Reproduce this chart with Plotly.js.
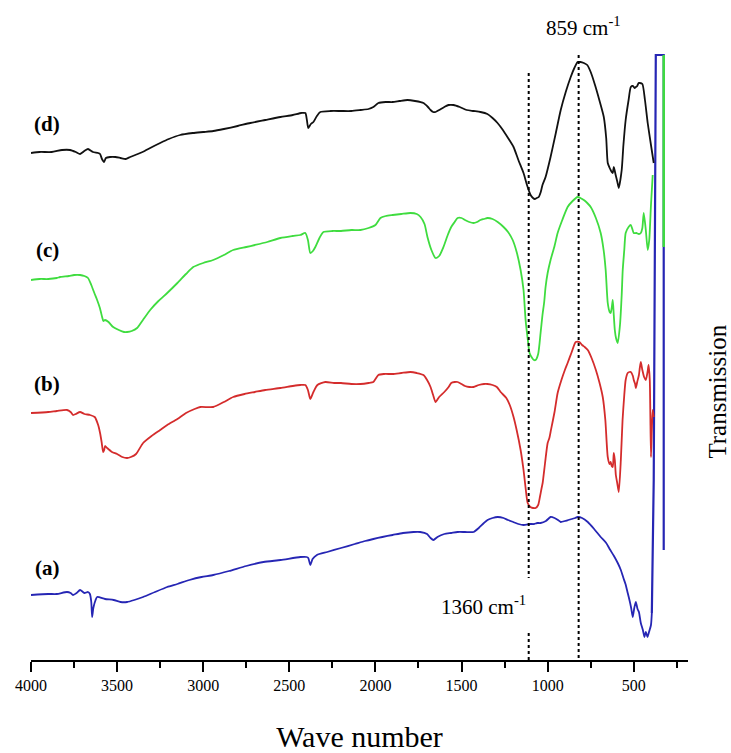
<!DOCTYPE html>
<html>
<head>
<meta charset="utf-8">
<script src="https://cdn.plot.ly/plotly-3.0.1.min.js"></script>
<style>html,body{margin:0;padding:0;background:#fff;}#chart{width:731px;height:753px;}</style>
</head>
<body>
<div id="chart"></div>
<script>
// Spectrum (a) - blue
const waveA = [4000,3900,3850,3791,3770,3756,3735,3715,3690,3669,3658,3650,3645,3638,3625,3616,3570,3520,3480,3442,3400,3349,3280,3209,3150,3080,3010,2942,2850,2750,2650,2550,2436,2400,2390,2378,2365,2340,2280,2200,2120,2060,2012,1960,1900,1840,1779,1740,1700,1680,1663,1640,1600,1560,1523,1480,1430,1400,1370,1349,1320,1290,1256,1230,1200,1170,1140,1100,1080,1060,1041,1010,983,960,940,924,900,880,860,840,826,800,767,730,692,660,640,615,593,575,560,548,535,525,515,506,497,488,478,470,459,447,438,430,420,413,400,395];
const transA = [65,66,66,68,67,65,67,70,67,68,66,58,43,52,60,63,61,60,58,58,60,63,68,73,76,80,83,85,89,94,98,100,103,103,102,95,101,105,108,112,116,119,121,123,125,127,128,128,126,122,120,123,126,127,128,128,128,132,137,140,142,143,142,140,138,136,135,136,136,137,137,139,143,142,140,138,139,140,141,142,143,142,138,131,123,117,111,104,97,90,82,76,67,60,52,43,52,58,51,48,37,30,23,28,23,27,35,47];
// Sharp rise at the low-wavenumber end of (a)
const waveArt = [395,384,372,326,326];
const transArt = [47,180,605,605,110];

// Spectrum (b) - red
const waveB = [4000,3900,3850,3791,3770,3756,3740,3715,3690,3657,3630,3610,3599,3590,3581,3575,3570,3558,3530,3500,3470,3442,3420,3390,3349,3300,3250,3209,3150,3100,3050,3017,2942,2880,2826,2760,2700,2640,2552,2480,2436,2407,2392,2378,2360,2337,2291,2240,2200,2140,2087,2040,2012,1983,1950,1900,1850,1797,1760,1721,1700,1680,1665,1651,1630,1600,1575,1560,1540,1523,1500,1480,1455,1430,1400,1370,1349,1320,1295,1273,1240,1220,1198,1180,1157,1140,1128,1116,1100,1085,1070,1055,1045,1035,1029,1015,1000,990,983,960,942,920,900,884,860,837,815,800,785,767,745,720,700,680,665,651,640,634,628,622,616,610,604,596,587,575,565,555,547,535,525,517,505,500,492,488,480,470,465,459,450,440,430,420,414,407,400,395,390,384];
const transB = [247,248,249,250,248,245,246,248,246,245,243,235,227,218,208,210,214,212,208,206,203,202,203,206,217,224,230,235,241,247,251,253,253,258,263,266,268,270,272,274,275,275,270,261,268,275,278,277,277,276,276,277,278,285,286,286,287,288,287,285,280,273,265,258,263,268,273,277,278,278,276,274,273,273,275,276,276,275,273,268,262,255,243,230,210,190,172,157,153,152,152,155,163,172,177,197,217,222,228,248,267,280,290,297,308,318,318,315,313,310,302,290,278,263,240,203,196,198,194,193,207,200,185,177,168,200,240,265,280,287,288,288,284,280,276,272,278,285,292,298,290,283,280,288,295,280,203,230,250,243];

// Spectrum (c) - green
const waveC = [4000,3950,3900,3850,3831,3780,3750,3715,3690,3669,3650,3630,3616,3600,3587,3580,3570,3550,3523,3490,3460,3442,3415,3384,3350,3308,3260,3209,3150,3100,3058,3000,2942,2880,2826,2750,2700,2628,2552,2480,2436,2407,2392,2378,2363,2349,2325,2302,2250,2200,2140,2087,2040,2000,1971,1940,1900,1850,1797,1760,1738,1715,1698,1675,1651,1630,1605,1580,1560,1540,1523,1500,1480,1455,1430,1410,1390,1370,1349,1320,1290,1256,1230,1203,1180,1157,1140,1128,1115,1105,1090,1080,1070,1055,1041,1030,1020,1012,1000,983,960,942,915,884,855,826,810,790,770,750,720,692,675,663,651,640,634,628,622,616,610,603,593,580,570,564,555,547,530,517,500,485,470,459,450,442,430,419,410,400,390];
const transC = [380,381,381,382,383,384,385,385,384,382,375,366,360,352,343,339,340,338,333,330,328,328,329,332,340,350,359,367,377,386,393,397,400,405,410,413,415,418,422,424,425,427,420,407,409,413,422,428,429,429,430,430,432,435,442,444,445,446,447,446,443,436,423,410,402,404,413,425,433,438,442,442,440,438,437,438,440,441,442,441,438,433,428,420,408,390,370,340,320,307,302,300,300,306,327,345,358,373,387,400,414,427,440,453,459,463,462,460,457,453,442,427,410,390,357,348,347,352,360,345,330,322,317,335,365,390,410,427,433,435,427,427,426,427,432,447,430,410,420,455,485];
// Separate green segment at the far right
const waveC2 = [326,326];
const transC2 = [605,413];

// Spectrum (d) - black
const waveD = [4000,3950,3880,3820,3773,3740,3715,3690,3669,3640,3610,3599,3588,3576,3565,3541,3510,3480,3450,3424,3380,3340,3308,3250,3200,3134,3060,3000,2942,2880,2800,2727,2640,2552,2480,2430,2407,2398,2390,2375,2360,2340,2320,2260,2200,2140,2087,2040,2012,1983,1940,1900,1860,1814,1770,1721,1695,1680,1665,1651,1630,1600,1575,1547,1510,1470,1430,1390,1350,1320,1291,1260,1230,1198,1170,1140,1120,1099,1085,1075,1063,1052,1040,1030,1012,983,955,924,895,866,845,826,810,790,770,750,725,700,674,660,651,640,634,628,622,616,605,595,587,570,560,547,530,517,505,495,488,480,472,465,450,435,419,400,384];
const transD = [507,508,508,510,510,508,506,509,511,508,507,506,501,498,502,503,503,502,501,503,506,509,512,517,521,525,527,528,529,531,534,537,540,543,545,547,547,540,532,536,538,544,548,549,549,549,550,551,553,557,558,558,559,560,559,557,553,550,548,548,550,553,555,555,553,550,549,548,546,542,537,530,522,513,500,487,475,465,462,461,462,463,468,475,483,503,525,550,568,583,592,598,598,597,595,588,575,560,543,522,497,492,490,488,487,493,485,478,472,490,515,540,560,573,574,572,573,574,577,577,576,560,537,515,497];

// Reference lines (wavenumber positions) and their labels
const refWave = [1110, 820];
const refLabels = ["1360 cm<sup>-1</sup>", "859 cm<sup>-1</sup>"];
const curveLabels = ["(a)", "(b)", "(c)", "(d)"];
const curveLabelY = [92, 276, 410, 536];
const tickVals = [4000, 3500, 3000, 2500, 2000, 1500, 1000, 500];
const minorTickVals = [3750, 3250, 2750, 2250, 1750, 1250, 750, 250];

const serif = "Liberation Serif, Times New Roman, serif";
const lw = 1.8;
const blue = '#2626b4', red = '#d42c2c', green = '#3fdc3f', black = '#111111';
const sp = {shape: 'spline', smoothing: 0.6};
const traces = [
  {x: waveA, y: transA, mode: 'lines', line: Object.assign({color: blue, width: lw}, sp), hoverinfo: 'skip'},
  {x: waveArt, y: transArt, mode: 'lines', line: {color: blue, width: 2.2}, hoverinfo: 'skip'},
  {x: waveB, y: transB, mode: 'lines', line: Object.assign({color: red, width: lw}, sp), hoverinfo: 'skip'},
  {x: waveC, y: transC, mode: 'lines', line: Object.assign({color: green, width: lw}, sp), hoverinfo: 'skip'},
  {x: waveC2, y: transC2, mode: 'lines', line: {color: green, width: 2.5}, hoverinfo: 'skip'},
  {x: waveD, y: transD, mode: 'lines', line: Object.assign({color: black, width: lw}, sp), hoverinfo: 'skip'},
  {x: [refWave[0], refWave[0], null, refWave[0], refWave[0]], y: [587, 82, null, 27, 0], mode: 'lines', line: {color: '#000', width: 2, dash: 'dot'}, hoverinfo: 'skip', connectgaps: false},
  {x: [refWave[1], refWave[1]], y: [605, 0], mode: 'lines', line: {color: '#000', width: 2, dash: 'dot'}, hoverinfo: 'skip'}
];

const annotations = [
  {x: 1370, y: 55, xref: 'x', yref: 'y', xanchor: 'center', text: refLabels[0], showarrow: false, font: {family: serif, size: 21, color: '#000'}},
  {x: 790, y: 1.038, xref: 'x', yref: 'paper', xanchor: 'center', yanchor: 'middle', text: refLabels[1], showarrow: false, font: {family: serif, size: 21, color: '#000'}},
  {x: 1.0457, y: 0.44, xref: 'paper', yref: 'paper', xanchor: 'center', yanchor: 'middle', text: 'Transmission', textangle: -90, showarrow: false, font: {family: serif, size: 25, color: '#000'}}
];
for (let i = 0; i < curveLabels.length; i++) {
  annotations.push({x: 3905, y: curveLabelY[i], xref: 'x', yref: 'y', xanchor: 'center', text: '<b>' + curveLabels[i] + '</b>', showarrow: false, font: {family: serif, size: 21, color: '#000'}});
}

const layout = {
  width: 731, height: 753,
  margin: {l: 31, r: 43, t: 50, b: 93},
  paper_bgcolor: '#fff', plot_bgcolor: '#fff',
  showlegend: false,
  xaxis: {
    range: [4000, 185], showgrid: false, zeroline: false,
    showline: true, linecolor: '#000', linewidth: 2,
    ticks: 'outside', ticklen: 10, tickwidth: 2, tickcolor: '#000',
    tickvals: tickVals, ticktext: tickVals.map(String),
    tickfont: {family: serif, size: 16, color: '#000'},
    minor: {tickvals: minorTickVals, ticks: 'outside', ticklen: 6, tickwidth: 2, tickcolor: '#000'},
    title: {text: 'Wave number', font: {family: serif, size: 30, color: '#000'}, standoff: 34},
    automargin: false
  },
  yaxis: {range: [0, 610], visible: false, showgrid: false, zeroline: false},
  annotations: annotations
};

Plotly.newPlot('chart', traces, layout, {staticPlot: true, displayModeBar: false});
</script>
</body>
</html>
